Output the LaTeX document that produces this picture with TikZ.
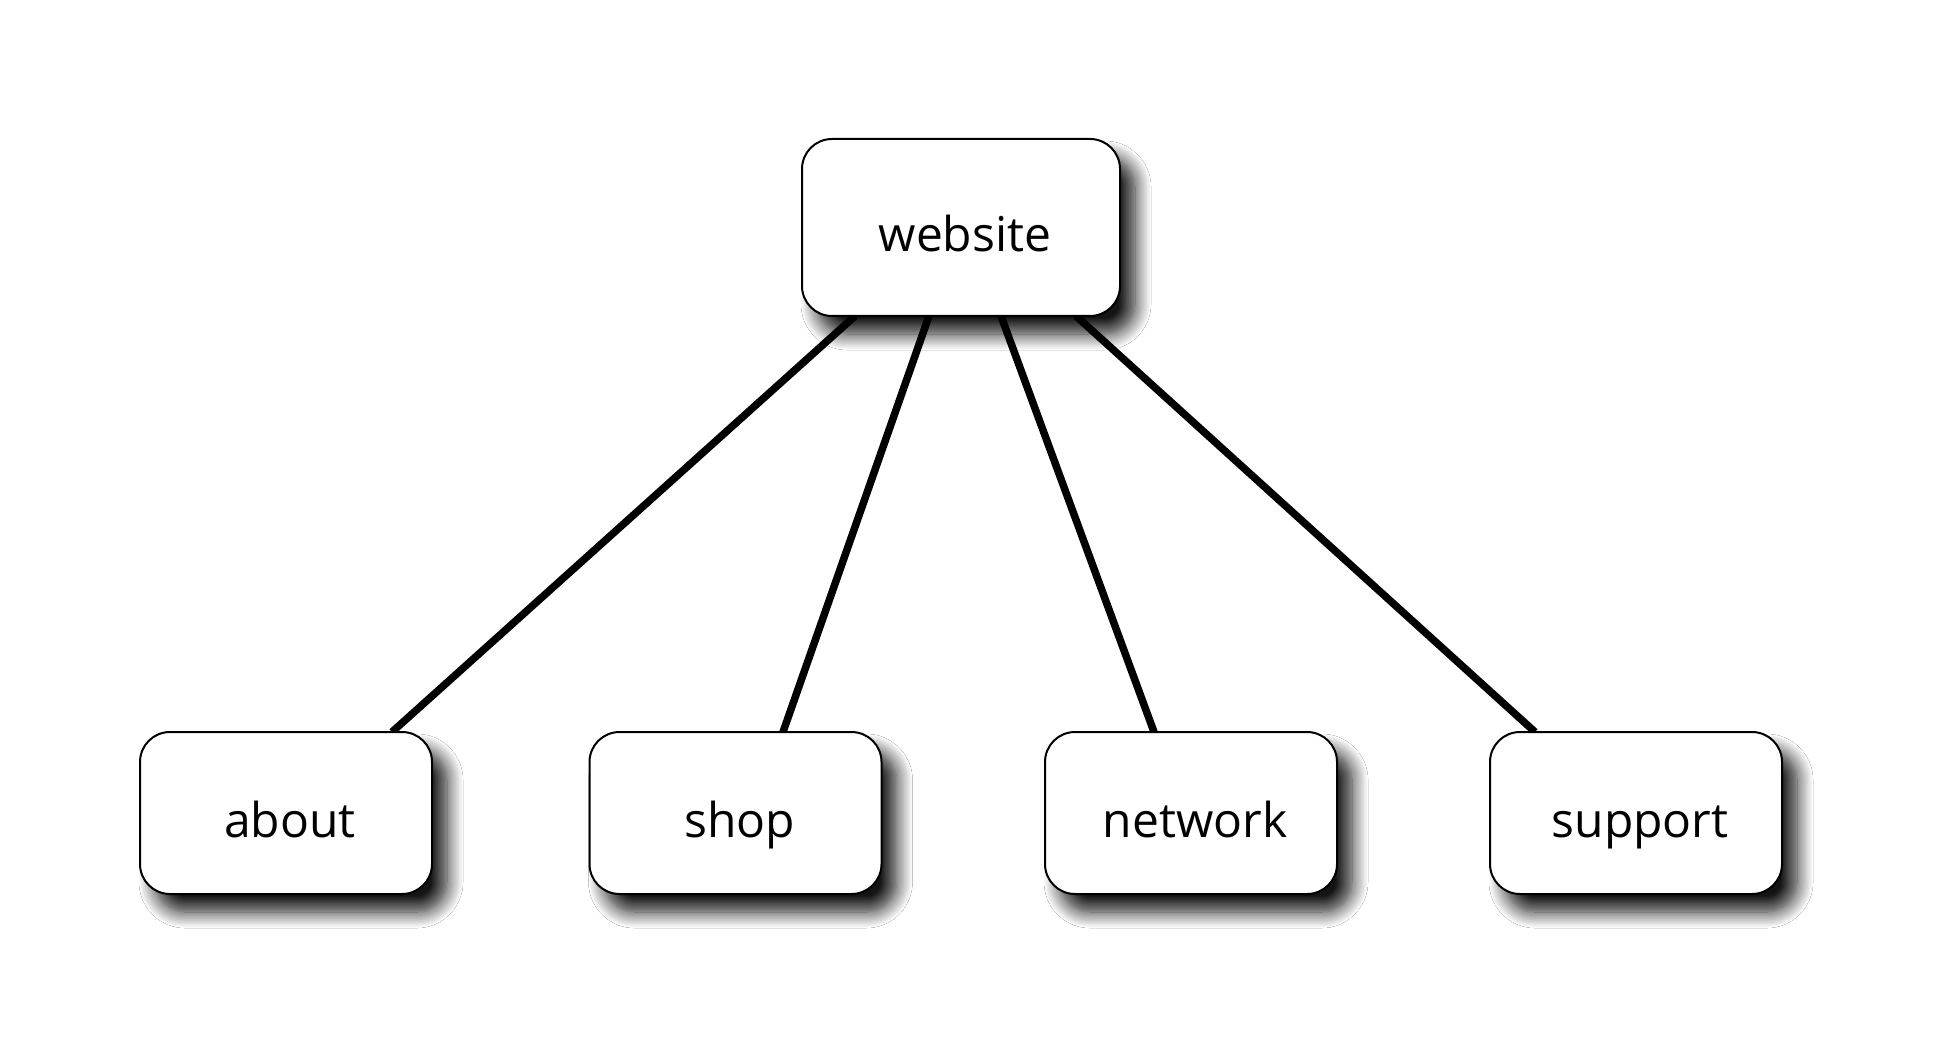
\documentclass[tikz,border=0pt]{standalone}
\usepackage{fontspec}
\setmainfont{Open Sans}
\usetikzlibrary{shadows.blur}
\begin{document}
\begin{tikzpicture}[x=0.5pt,y=-0.5pt,
  box/.style={draw=black, line width=1pt, rounded corners=15pt, fill=white,
    inner sep=0pt, font=\fontsize{24}{28}\selectfont, text height=24pt, text depth=0pt,
    blur shadow={shadow xshift=7.5pt, shadow yshift=-9pt, shadow blur radius=8pt, shadow opacity=92, shadow blur steps=14}},
  link/.style={line width=3.75pt, black}]
\useasboundingbox (0,0) rectangle (1946,1058);
\fill[white] (0,0) rectangle (1946,1058);
% anchors for link ends
\coordinate (w1) at (855,316);
\coordinate (w2) at (929,316);
\coordinate (w3) at (1001,316);
\coordinate (w4) at (1076,316);
\coordinate (c1) at (392,732);
\coordinate (c2) at (783,732);
\coordinate (c3) at (1154,732);
\coordinate (c4) at (1535,732);
\draw[link] (w1) -- (c1);
\draw[link] (w2) -- (c2);
\draw[link] (w3) -- (c3);
\draw[link] (w4) -- (c4);
\node[box, minimum width=159pt, minimum height=88.5pt] (website) at (961,227.5) {\hspace*{4pt}website};
\node[box, minimum width=146pt, minimum height=81pt] (about) at (286,813) {\hspace*{4pt}about};
\node[box, minimum width=146pt, minimum height=81pt] (shop) at (735.5,813) {\hspace*{4pt}shop};
\node[box, minimum width=146pt, minimum height=81pt] (network) at (1191,813) {\hspace*{4pt}network};
\node[box, minimum width=146pt, minimum height=81pt] (support) at (1636,813) {\hspace*{4pt}support};
\end{tikzpicture}
\end{document}
